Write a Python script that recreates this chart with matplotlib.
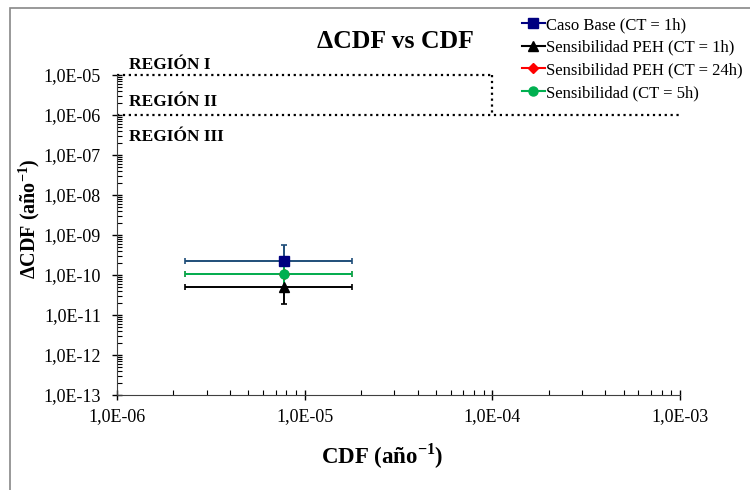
import numpy as np
import matplotlib
matplotlib.use("Agg")
import matplotlib.pyplot as plt
from matplotlib.ticker import FuncFormatter, LogLocator
from matplotlib.patches import Rectangle

plt.rcParams['font.family'] = ['Liberation Serif', 'DejaVu Serif']
plt.rcParams['mathtext.fontset'] = 'custom'
plt.rcParams['mathtext.rm'] = 'Liberation Serif'
plt.rcParams['mathtext.bf'] = 'Liberation Serif:bold'

# series (CDF, dCDF) con errores asimetricos
labels = ['Caso Base (CT = 1h)', 'Sensibilidad PEH (CT = 1h)',
          'Sensibilidad PEH (CT = 24h)', 'Sensibilidad (CT = 5h)']
cdf = [7.8e-6, 7.8e-6, 7.8e-6, 7.8e-6]
cdf_lo = [2.3e-6, 2.3e-6, 2.3e-6, 2.3e-6]
cdf_hi = [1.78e-5, 1.78e-5, 1.78e-5, 1.78e-5]
dcdf = [2.24e-10, 5.1e-11, 1.06e-10, 1.06e-10]
dcdf_lo = [1.0e-10, 1.9e-11, 4.3e-11, 4.3e-11]
dcdf_hi = [5.6e-10, 1.0e-10, 2.6e-10, 2.6e-10]

colors = ['#000080', 'black', '#FF0000', '#00B050']
err_colors = ['#1F4E79', 'black', '#FF5050', '#00B050']
markers = ['s', '^', 'D', 'o']
msizes = [7, 7, 5, 6.5]

# limites de regiones
reg_hi = 1e-5
reg_lo = 1e-6
reg_x = 1e-4

fig = plt.figure(figsize=(7.5, 4.9), dpi=100)
ax = fig.add_axes([117/750, 1 - 395/490, (680 - 117)/750, (395 - 75)/490])

handles = []
for i in range(4):
    x, y = cdf[i], dcdf[i]
    ax.errorbar([x], [y],
                xerr=[[x - cdf_lo[i]], [cdf_hi[i] - x]],
                yerr=[[y - dcdf_lo[i]], [dcdf_hi[i] - y]],
                fmt='none', ecolor=err_colors[i], elinewidth=1.4,
                capsize=2.5, capthick=1.2, zorder=2 + i * 0.1)
    h, = ax.plot([x], [y], marker=markers[i], ls='-', color=colors[i],
                 ms=msizes[i], mec=colors[i], zorder=4 + i * 0.1)
    handles.append(h)

# lineas de regiones
ax.plot([1e-6, reg_x], [reg_hi, reg_hi], ls=':', color='black', lw=1.6, clip_on=False)
ax.plot([reg_x, reg_x], [reg_hi, reg_lo], ls=':', color='black', lw=1.6, clip_on=False)
ax.plot([1e-6, 1e-3], [reg_lo, reg_lo], ls=':', color='black', lw=1.6, clip_on=False)

ax.set_xscale('log')
ax.set_yscale('log')
ax.set_xlim(1e-6, 1e-3)
ax.set_ylim(1e-13, 1e-5)

fmt = FuncFormatter(lambda v, p: f"{v:.1E}".replace('.', ','))
ax.xaxis.set_major_formatter(fmt)
ax.yaxis.set_major_formatter(fmt)
ax.xaxis.set_minor_locator(LogLocator(base=10, subs=np.arange(2, 10), numticks=20))
ax.yaxis.set_minor_locator(LogLocator(base=10, subs=np.arange(2, 10), numticks=20))
ax.tick_params(which='major', direction='inout', length=7, width=1, labelsize=13)
ax.tick_params(axis='y', which='major', pad=8)
ax.tick_params(axis='x', which='major', pad=6)
ax.tick_params(which='minor', direction='in', length=3.5, width=0.8)
ax.tick_params(axis='x', which='minor', labelbottom=False)
ax.tick_params(axis='y', which='minor', labelleft=False)

for s in ['top', 'right']:
    ax.spines[s].set_visible(False)
for s in ['left', 'bottom']:
    ax.spines[s].set_color('#404040')

fig.text(382/750, 1 - 456/490, r'CDF (año$^{\mathbf{-1}}$)', ha='center', va='center',
         fontsize=16.5, fontweight='bold')
fig.text(29/750, 1 - 219/490, r'$\mathbf{\Delta}$CDF (año$^{\mathbf{-1}}$)', ha='center',
         va='center', rotation=90, fontsize=14.5, fontweight='bold')

fig.text(395/750, 1 - 41/490, 'ΔCDF vs CDF', ha='center', va='center',
         fontsize=18.5, fontweight='bold')

for txt, yy in [('REGIÓN I', 65), ('REGIÓN II', 102), ('REGIÓN III', 137)]:
    fig.text(129/750, 1 - yy/490, txt, ha='left', va='center',
             fontsize=12.5, fontweight='bold')

fig.legend(handles, labels, loc='upper left', bbox_to_anchor=(522/750, 1 - 17/490),
           frameon=False, fontsize=12, handlelength=1.35, handletextpad=0.1,
           labelspacing=0.4, borderaxespad=0, borderpad=0)

fig.patches.append(Rectangle((10/750, -0.2), 1.2, 1 - 8/490 + 0.2,
                             transform=fig.transFigure, fill=False,
                             edgecolor='#888888', lw=1.2, figure=fig))

fig.savefig('out.png', dpi=100)
